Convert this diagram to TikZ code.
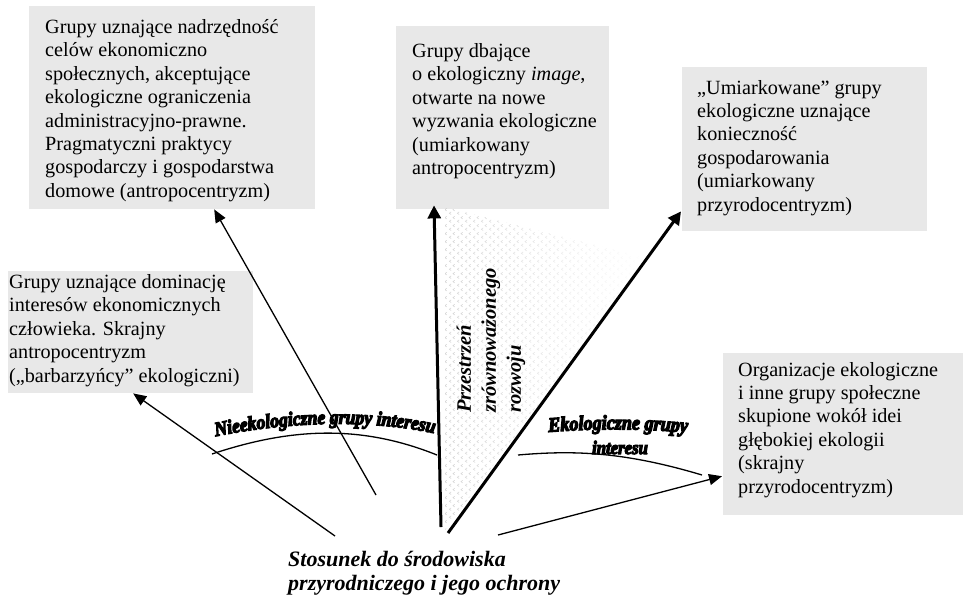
\documentclass[tikz,border=0pt]{standalone}
\usepackage{fontspec}
\setmainfont{Liberation Serif}
\newfontfamily\wordart[FakeBold=6,FakeStretch=0.88]{Liberation Serif Bold Italic}
\usetikzlibrary{arrows.meta,patterns.meta,decorations.text,fadings}
\definecolor{szary}{RGB}{232,232,232}
\tikzdeclarepattern{name=jodelka, type=uncolored,
  bounding box={(0pt,0pt) and (8pt,8pt)}, tile size={(8pt,8pt)},
  code={
    \draw[line width=.5pt] (3.5pt,.5pt) -- (1.5pt,2pt) -- (3.5pt,3.5pt);
    \draw[line width=.5pt] (7.5pt,4.5pt) -- (5.5pt,6pt) -- (7.5pt,7.5pt);
  }}
\tikzset{
  grupa/.style={fill=szary, anchor=north west, inner sep=0pt,
    font=\fontsize{20.2}{23.4}\selectfont},
  cienka/.style={line width=1.3pt, -{Triangle[length=13pt,width=11pt]}},
  gruba/.style={line width=3pt, -{Triangle[length=13pt,width=13pt]}},
  luk/.style={line width=1.3pt},
}
\begin{document}
\begin{tikzpicture}[x=1pt,y=-1pt]
  \useasboundingbox (0,0) rectangle (963,598);
  \node[grupa, inner xsep=16pt, inner ysep=11pt] (box1) at (29,6) {\parbox[t][181pt][t]{254pt}{\raggedright\strut
    Grupy uznające nadrzędność\\ celów ekonomiczno\\ społecznych, akceptujące\\ ekologiczne ograniczenia\\
    administracyjno-prawne.\\ Pragmatyczni praktycy\\ gospodarczy i gospodarstwa\\ domowe (antropocentryzm)}};
  \node[grupa, inner xsep=16pt, inner ysep=15pt] (box2) at (396,26) {\parbox[t][153pt][t]{181pt}{\raggedright\strut
    Grupy dbające\\ o ekologiczny \textit{image},\\ otwarte na nowe\\ \mbox{wyzwania ekologiczne}\\ (umiarkowany\\ antropocentryzm)}};
  \node[grupa, inner xsep=15pt, inner ysep=10.6pt] (box3) at (682,67) {\parbox[t][142.8pt][t]{215pt}{\raggedright\strut
    „Umiarkowane” grupy\\ ekologiczne uznające\\ konieczność\\ gospodarowania\\ (umiarkowany\\ przyrodocentryzm)}};
  \node[grupa, inner xsep=1pt, inner ysep=1pt] (box4) at (8,271) {\parbox[t][120pt][t]{243pt}{\raggedright\strut
    Grupy uznające dominację\\ interesów ekonomicznych\\ człowieka. Skrajny\\ antropocentryzm\\ („barbarzyńcy” ekologiczni)}};
  \node[grupa, inner xsep=15pt, inner ysep=6.6pt] (box5) at (723,353) {\parbox[t][148.8pt][t]{210pt}{\raggedright\strut
    Organizacje ekologiczne\\ i inne grupy społeczne\\ skupione wokół idei\\ głębokiej ekologii\\ (skrajny\\ przyrodocentryzm)}};

  \fill[pattern=jodelka, pattern color=gray!40, path fading=east] (445,530) -- (445,207) -- (648,258) -- cycle;
  \node[rotate=90, anchor=west, align=left, inner sep=0pt, font=\bfseries\itshape\fontsize{20.5}{25}\selectfont]
    (przestrzen) at (491,413) {Przestrzeń\\zrównoważonego\\rozwoju};

  \node[anchor=north west, align=left, inner sep=0pt, font=\bfseries\itshape\fontsize{22}{24}\selectfont]
    (stosunek) at (288,551) {Stosunek do środowiska\\przyrodniczego i jego ochrony};

  \coordinate (o1) at (376,495);
  \coordinate (o2) at (335,536);
  \coordinate (o3) at (441,527);
  \coordinate (o4) at (448,533);
  \coordinate (o5) at (498,535);
  \coordinate (nl) at (212,454);
  \coordinate (nr) at (437,455);
  \coordinate (el) at (518,455);
  \coordinate (er) at (702,475);

  \draw[luk] (nl) .. controls (290,428) and (360,424) .. (nr);
  \draw[luk] (el) .. controls (575,450) and (625,452) .. (er);
  \path[decorate, decoration={text along path, text align=center,
    text={|\wordart\fontsize{20}{22}\selectfont|Nieekologiczne grupy interesu}}]
    (212,437) .. controls (290,421) and (370,419) .. (438,434);
  \path[decorate, decoration={text along path, text align=center,
    text={|\wordart\fontsize{20.5}{22}\selectfont|Ekologiczne grupy}}]
    (536,433) .. controls (590,428) and (650,428) .. (700,434);
  \node[anchor=base, inner sep=0pt, font=\wordart\fontsize{19}{22}\selectfont] (interesu) at (620,454) {interesu};

  \draw[cienka] (o1) -- ([xshift=42pt]box1.south);
  \draw[cienka] (o2) -- ([xshift=2.5pt]box4.south);
  \draw[gruba] (o3) -- ([xshift=38pt,yshift=4pt]box2.south west);
  \draw[gruba] (o4) -- ([xshift=-1pt,yshift=20pt]box3.south west);
  \draw[cienka] (o5) -- ([xshift=-1pt,yshift=-42pt]box5.west);
\end{tikzpicture}
\end{document}
